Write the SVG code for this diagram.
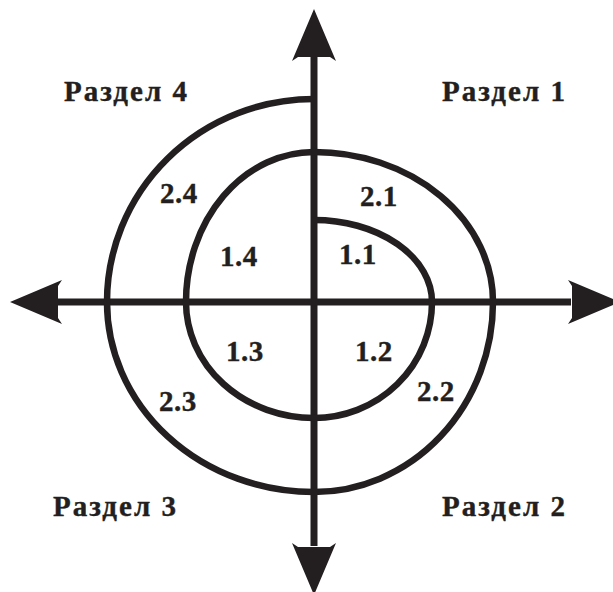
<svg xmlns="http://www.w3.org/2000/svg" width="613" height="592" viewBox="0 0 613 592">
<style>
.ln{fill:none;stroke:#231f20;stroke-width:6.5}
.ax{fill:none;stroke:#231f20;stroke-width:7}
.ah{fill:#231f20}
text{font-family:'Liberation Serif','Times New Roman',Times,serif;font-weight:700;font-size:29px;fill:#231f20;stroke:#231f20;stroke-width:0.4}
.h{letter-spacing:2px}
.n{letter-spacing:0.5px}
</style>
<rect width="613" height="592" fill="#fff"/>
<g id="connectors">
<path class="ax" d="M314,57 V546"/>
<path class="ax" d="M57,302 H571"/>
<polygon class="ah" points="314,9 336,61 330,57 298,57 292,61"/>
<polygon class="ah" points="314,595 336,543 330,547 298,547 292,543"/>
<polygon class="ah" points="10,302 62,280 58,286 58,318 62,324"/>
<polygon class="ah" points="620,302 568,280 572,286 572,318 568,324"/>
</g>
<g id="spiral">
<path class="ln" d="M314,220 A118,82 0 0 1 432,302 A118,116 0 0 1 314,418 A128,116 0 0 1 186,302 A128,150 0 0 1 314,152 A179,150 0 0 1 493,302 A179,190 0 0 1 314,492 A207,190 0 0 1 107,302 A207,203 0 0 1 314,99"/>
</g>
<g id="section1"><text class="h" x="442" y="101">Раздел 1</text></g>
<g id="section2"><text class="h" x="442" y="516">Раздел 2</text></g>
<g id="section3"><text class="h" x="53" y="516">Раздел 3</text></g>
<g id="section4"><text class="h" x="64" y="101">Раздел 4</text></g>
<g id="l11"><text class="n" x="339" y="264">1.1</text></g>
<g id="l12"><text class="n" x="355" y="361">1.2</text></g>
<g id="l13"><text class="n" x="226" y="361">1.3</text></g>
<g id="l14"><text class="n" x="220" y="266">1.4</text></g>
<g id="l21"><text class="n" x="360" y="206">2.1</text></g>
<g id="l22"><text class="n" x="417" y="401">2.2</text></g>
<g id="l23"><text class="n" x="159" y="411">2.3</text></g>
<g id="l24"><text class="n" x="160" y="203">2.4</text></g>
</svg>
